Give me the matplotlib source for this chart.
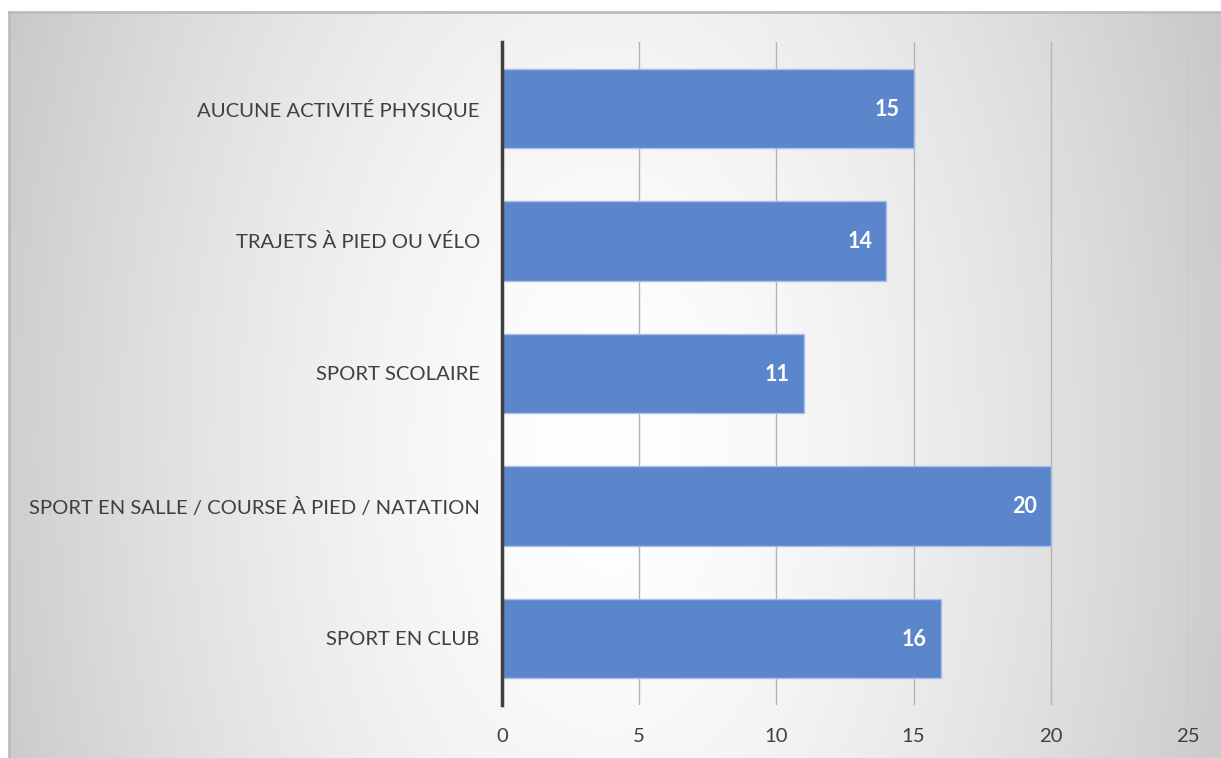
import numpy as np
import matplotlib
matplotlib.use("Agg")
import matplotlib.pyplot as plt

# data
categories = ["SPORT EN CLUB",
              "SPORT EN SALLE / COURSE À PIED / NATATION",
              "SPORT SCOLAIRE",
              "TRAJETS À PIED OU VÉLO",
              "AUCUNE ACTIVITÉ PHYSIQUE"]
values = [16, 20, 11, 14, 15]
xticks = [0, 5, 10, 15, 20, 25]

plt.rcParams['font.family'] = ['Lato', 'DejaVu Sans']

W, H = 1221, 758
fig = plt.figure(figsize=(W / 100, H / 100), dpi=100)
fig.patch.set_facecolor('white')

# chart area background with soft radial gradient
x0, y0 = 9, 12
bg = fig.add_axes([x0 / W, 0, (W - x0) / W, (H - y0) / H], zorder=0)
gx = np.linspace(x0, W, 400)
gy = np.linspace(y0, H, 300)
X, Y = np.meshgrid(gx, gy)
r = np.sqrt(((X - 610) / 700) ** 2 + ((Y - 450) / 1200) ** 2)
g = 255 - 60 * np.clip(r, 0, 1) ** 1.5
img = np.dstack([g, g, g]) / 255
bg.imshow(img, extent=[0, 1, 0, 1], aspect='auto', origin='upper')
bg.set_xlim(0, 1)
bg.set_ylim(0, 1)
bg.axis('off')
bg.plot([0, 0], [0, 1], color='#bdbdbd', lw=2, transform=bg.transAxes, clip_on=False)
bg.plot([0, 1], [1, 1], color='#bdbdbd', lw=2, transform=bg.transAxes, clip_on=False)

left, right = 502 / W, 1188 / W
top, bottom = 1 - 42 / H, 1 - 704.5 / H
ax = fig.add_axes([left, bottom, right - left, top - bottom], zorder=1)
ax.set_facecolor('none')

ypos = np.arange(len(categories))
bars = ax.barh(ypos, values, height=0.6, color='#5b86cc',
               edgecolor='#a9bfe8', linewidth=1, zorder=3)

for b, v in zip(bars, values):
    ax.annotate(str(v), (b.get_width(), b.get_y() + b.get_height() / 2),
                xytext=(-14, -1), textcoords='offset pixels',
                ha='right', va='center', color='white',
                fontsize=15.5, fontweight='bold', zorder=4)

ax.set_xlim(0, 25)
ax.set_ylim(-0.5, len(categories) - 0.5)
ax.set_xticks(xticks)
ax.set_xticklabels([str(t) for t in xticks])
ax.set_yticks(ypos)
ax.set_yticklabels(categories)

ax.grid(axis='x', color='#b4b4b4', linewidth=1, zorder=1)
ax.set_axisbelow(True)
for s in ['top', 'right', 'bottom']:
    ax.spines[s].set_visible(False)
ax.spines['left'].set_color('#404040')
ax.spines['left'].set_linewidth(2.5)
ax.spines['left'].set_zorder(5)

ax.tick_params(axis='both', length=0, labelsize=14.6, colors='#404040')
ax.tick_params(axis='y', pad=16)
ax.tick_params(axis='x', pad=17)

fig.savefig('out.png', dpi=100)
